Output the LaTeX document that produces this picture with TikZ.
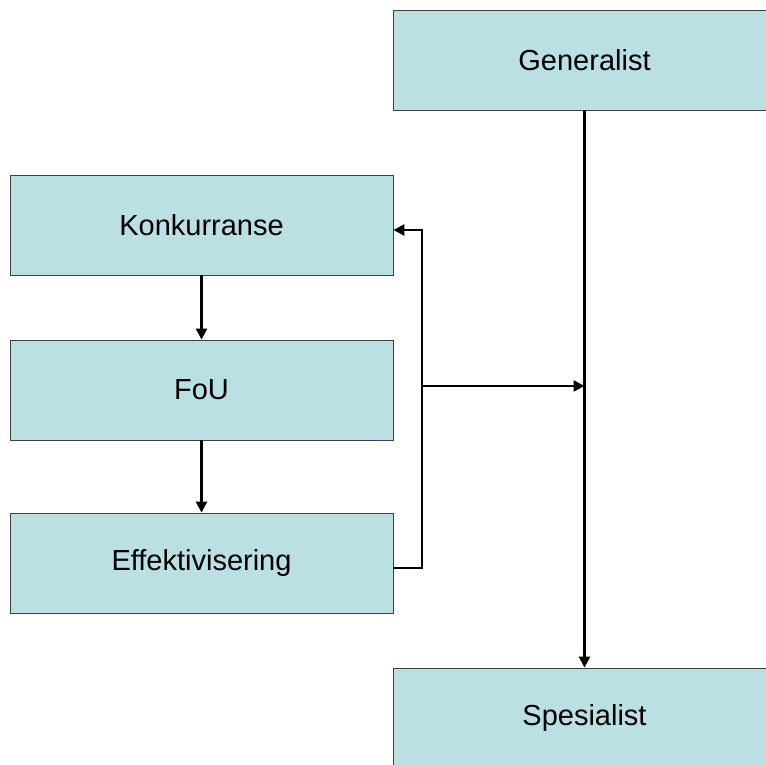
\documentclass[tikz,border=0pt]{standalone}
\usepackage{fontspec}
\setmainfont{Liberation Sans}
\usepackage{xcolor}
\usetikzlibrary{arrows.meta}
\definecolor{boxfill}{RGB}{187,224,227}

\begin{document}
\begin{tikzpicture}[x=1pt,y=1pt]
\tikzstyle{every node}+=[inner sep=0pt]
\tikzstyle{stage}=[draw=black!75,fill=boxfill,line width=0.8pt,minimum width=383pt,minimum height=100pt,font=\fontsize{29}{33}\selectfont]
\tikzstyle{flow}=[draw=black,line width=2.5pt,-{Triangle[length=11pt,width=11pt]}]
\clip (0,0) rectangle (766,764);
\node [stage] (gen) at (584.5,704) {Generalist};
\node [stage] (konk) at (201.5,539) {Konkurranse};
\node [stage] (fou) at (201.5,374) {FoU};
\node [stage] (eff) at (201.5,201) {Effektivisering};
\node [stage] (spes) at (584.5,46) {Spesialist};
\coordinate (loop) at (422,378);
\draw [flow] (gen.south) -- (spes.north);
\draw [flow] (konk.south) -- (fou.north);
\draw [flow] (fou.south) -- (eff.north);
\draw [flow] ([yshift=-5pt]eff.east) -| (loop) |- ([yshift=-5pt]konk.east);
\draw [flow] (loop) -- (loop -| gen.south);
\end{tikzpicture}
\end{document}
